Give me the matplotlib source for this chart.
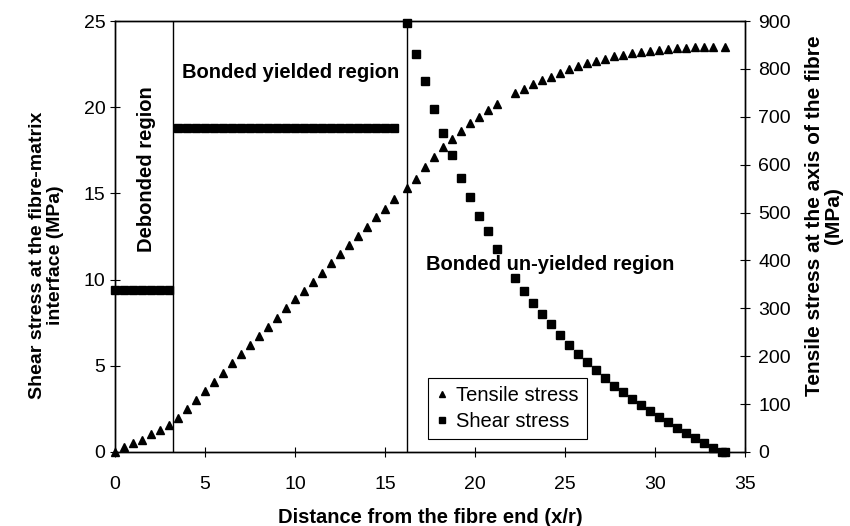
import matplotlib
matplotlib.use('Agg')
import matplotlib.pyplot as plt
from matplotlib.lines import Line2D

plt.rcParams['font.family'] = ['Liberation Sans', 'DejaVu Sans']

# Shear stress at fibre-matrix interface (MPa), left axis
shear_x = [0.0, 0.5, 1.0, 1.5, 2.0, 2.5, 3.0,
           3.5, 4.0, 4.5, 5.0, 5.5, 6.0, 6.5, 7.0, 7.5, 8.0, 8.5, 9.0, 9.5,
           10.0, 10.5, 11.0, 11.5, 12.0, 12.5, 13.0, 13.5, 14.0, 14.5, 15.0, 15.5,
           16.2, 16.7, 17.2, 17.7, 18.2, 18.7, 19.2, 19.7, 20.2, 20.7, 21.2,
           22.2, 22.7, 23.2, 23.7, 24.2, 24.7, 25.2, 25.7, 26.2, 26.7, 27.2,
           27.7, 28.2, 28.7, 29.2, 29.7, 30.2, 30.7, 31.2, 31.7, 32.2, 32.7,
           33.2, 33.7, 33.9]
shear_y = [9.4, 9.4, 9.4, 9.4, 9.4, 9.4, 9.4,
           18.8, 18.8, 18.8, 18.8, 18.8, 18.8, 18.8, 18.8, 18.8, 18.8, 18.8, 18.8, 18.8,
           18.8, 18.8, 18.8, 18.8, 18.8, 18.8, 18.8, 18.8, 18.8, 18.8, 18.8, 18.8,
           24.9, 23.1, 21.5, 19.9, 18.5, 17.2, 15.9, 14.8, 13.7, 12.8, 11.8,
           10.1, 9.36, 8.66, 8.0, 7.4, 6.79, 6.21, 5.68, 5.2, 4.76, 4.27,
           3.85, 3.46, 3.07, 2.73, 2.38, 2.05, 1.76, 1.41, 1.08, 0.79, 0.5,
           0.21, 0.02, 0.0]

# Tensile stress at the axis of the fibre (MPa), right axis
tensile_x = [0.0, 0.5, 1.0, 1.5, 2.0, 2.5, 3.0, 3.5, 4.0, 4.5, 5.0, 5.5, 6.0,
             6.5, 7.0, 7.5, 8.0, 8.5, 9.0, 9.5, 10.0, 10.5, 11.0, 11.5, 12.0,
             12.5, 13.0, 13.5, 14.0, 14.5, 15.0, 15.5,
             16.2, 16.7, 17.2, 17.7, 18.2, 18.7, 19.2, 19.7, 20.2, 20.7, 21.2,
             22.2, 22.7, 23.2, 23.7, 24.2, 24.7, 25.2, 25.7, 26.2, 26.7, 27.2,
             27.7, 28.2, 28.7, 29.2, 29.7, 30.2, 30.7, 31.2, 31.7, 32.2, 32.7,
             33.2, 33.9]
tensile_y = [0, 11, 19, 26, 37, 46, 56, 70, 89, 109, 127, 147, 166,
             185, 204, 223, 242, 262, 280, 300, 319, 336, 356, 374, 394,
             413, 432, 451, 469, 490, 508, 528,
             551, 571, 596, 617, 637, 653, 670, 688, 700, 714, 727,
             749, 759, 768, 777, 784, 792, 799, 806, 812, 817, 821,
             826, 829, 833, 835, 838, 840, 841, 843, 844, 845, 845,
             845, 845]

region_bounds = [3.2, 16.2]

fig, ax = plt.subplots(figsize=(8.5, 5.26), dpi=100)
fig.subplots_adjust(left=0.1353, right=0.8765, bottom=0.1407, top=0.960)
ax2 = ax.twinx()

ax.plot(shear_x, shear_y, linestyle='none', marker='s', markersize=5.2,
        color='black', zorder=3, clip_on=False)
ax2.plot(tensile_x, tensile_y, linestyle='none', marker='^', markersize=6,
         color='black', zorder=3, clip_on=False)

for xb in region_bounds:
    ax.axvline(xb, color='black', linewidth=1.0)

ax.set_xlim(0, 35)
ax.set_ylim(0, 25)
ax2.set_ylim(0, 900)
ax.set_xticks(range(0, 36, 5))
ax.set_yticks(range(0, 26, 5))
ax2.set_yticks(range(0, 901, 100))

for a in (ax, ax2):
    a.tick_params(direction='inout', length=7, width=0.8, labelsize=14)
    for s in a.spines.values():
        s.set_linewidth(1.0)
ax.tick_params(axis='x', pad=14)
ax2.tick_params(axis='y', pad=6)

# axis titles placed as in the original figure
fig.text(0.5065, 0.017, 'Distance from the fibre end (x/r)', ha='center',
         va='center', fontsize=14.5, fontweight='bold')
fig.text(0.055, 0.515, 'Shear stress at the fibre-matrix\ninterface (MPa)',
         rotation=90, ha='center', va='center', multialignment='center',
         fontsize=14, fontweight='bold', linespacing=1.1)
fig.text(0.969, 0.59, 'Tensile stress at the axis of the fibre\n(MPa)',
         rotation=90, ha='center', va='center', multialignment='center',
         fontsize=15, fontweight='bold', linespacing=1.0)

ax.text(1.75, 16.4, 'Debonded region', rotation=90, ha='center', va='center',
        fontsize=14.5, fontweight='bold')
ax.text(9.75, 22.0, 'Bonded yielded region', ha='center', va='center',
        fontsize=14.5, fontweight='bold')
ax.text(17.3, 10.9, 'Bonded un-yielded region', ha='left', va='center',
        fontsize=14.5, fontweight='bold')

handles = [Line2D([], [], linestyle='none', marker='^', markersize=5,
                  color='black', label='Tensile stress'),
           Line2D([], [], linestyle='none', marker='s', markersize=5,
                  color='black', label='Shear stress')]
leg = ax2.legend(handles=handles, loc='upper left',
                 bbox_to_anchor=(0.497, 0.172), borderaxespad=0,
                 fontsize=14.5, frameon=True, fancybox=False,
                 edgecolor='black', handlelength=0.6, handletextpad=0.4,
                 borderpad=0.4, labelspacing=0.35, framealpha=1)
leg.get_frame().set_linewidth(0.8)

fig.savefig('out.png', dpi=100)
